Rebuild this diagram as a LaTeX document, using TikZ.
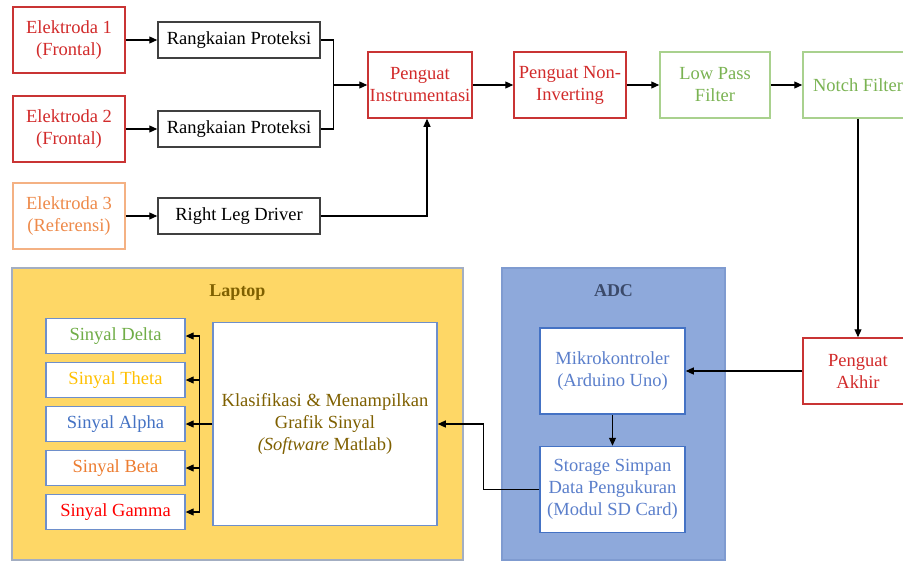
\documentclass[tikz,border=0pt]{standalone}
\usepackage{fontspec}
\setmainfont{Liberation Serif}
\usetikzlibrary{arrows.meta,positioning}
\definecolor{boxred}{HTML}{C93434}
\definecolor{txtred}{HTML}{D22B2B}
\definecolor{boxorange}{HTML}{F4B183}
\definecolor{txtorange}{HTML}{EE8A4A}
\definecolor{boxgreen}{HTML}{A9D18E}
\definecolor{txtgreen}{HTML}{7AB352}
\definecolor{laptopfill}{HTML}{FED766}
\definecolor{laptopedge}{HTML}{A3AEC2}
\definecolor{laptoptxt}{HTML}{7F6000}
\definecolor{adcfill}{HTML}{8EA9DB}
\definecolor{adcedge}{HTML}{7F9BD0}
\definecolor{adctxt}{HTML}{3B4A6A}
\definecolor{blueedge}{HTML}{4472C4}
\definecolor{bluetxt}{HTML}{5B7FCB}
\definecolor{sigedge}{HTML}{6E8FCB}
\definecolor{cdelta}{HTML}{70AD47}
\definecolor{ctheta}{HTML}{FFC000}
\definecolor{calpha}{HTML}{4472C4}
\definecolor{cbeta}{HTML}{ED7D31}
\definecolor{cgamma}{HTML}{FF0000}
\begin{document}
\begin{tikzpicture}[x=1pt,y=-1pt,on grid,>={Triangle[length=8pt,width=7pt]},
    every node/.style={font=\fontsize{18.5}{22}\selectfont,align=center,inner sep=1pt}]
  % Block styles
  \tikzstyle{nodeR}=[rectangle,line width=1.5pt,draw=boxred,text=txtred,fill=white,minimum width=112pt,minimum height=66pt]
  \tikzstyle{nodeO}=[nodeR,draw=boxorange,text=txtorange]
  \tikzstyle{nodeG}=[nodeR,draw=boxgreen,text=txtgreen,minimum width=110pt]
  \tikzstyle{nodeK}=[rectangle,line width=1.5pt,draw=black!75,fill=white,minimum width=162pt,minimum height=36pt]
  \tikzstyle{nodeB}=[rectangle,line width=1.5pt,draw=blueedge,text=bluetxt,fill=white,minimum width=145pt,minimum height=86pt]
  \tikzstyle{nodeS}=[rectangle,line width=1.3pt,draw=sigedge,fill=white,minimum width=139pt,minimum height=35pt]
  \tikzstyle{groupbox}=[rectangle,line width=1.2pt,minimum height=292pt]
  \tikzstyle{wire}=[->,line width=1.1pt]

  \useasboundingbox (0,0) rectangle (903,563);
  \clip (0,0) rectangle (903,563);

  % Group boxes
  \node[groupbox, draw=laptopedge, fill=laptopfill, minimum width=451pt] (laptop) at (237.5,414) {};
  \node[groupbox, draw=adcedge, fill=adcfill, minimum width=223pt]       (adc)    at (613.5,414) {};
  \node[font=\fontsize{18}{22}\selectfont\bfseries, text=laptoptxt] (laptop_t) [below=16pt of laptop.north] {Laptop};
  \node[font=\fontsize{18}{22}\selectfont\bfseries, text=adctxt]    (adc_t)    [below=16pt of adc.north] {ADC};

  % Input chain
  \node[nodeR] (el_1) at (69,40)            {Elektroda 1\\(Frontal)};
  \node[nodeR] (el_2) [below=89pt of el_1]  {Elektroda 2\\(Frontal)};
  \node[nodeO] (el_3) [below=87pt of el_2]  {Elektroda 3\\(Referensi)};
  \node[nodeK] (rp_1) [right=170pt of el_1] {Rangkaian Proteksi};
  \node[nodeK] (rp_2) [right=170pt of el_2] {Rangkaian Proteksi};
  \node[nodeK] (rld)  [right=170pt of el_3] {Right Leg Driver};

  \node[nodeR, minimum width=104pt] (pi)  [below right=45pt and 181pt of rp_1] {Penguat\\Instrumentasi};
  \node[nodeR]                      (pni) [right=150pt of pi]  {Penguat Non-\\Inverting};
  \node[nodeG]                      (lpf) [right=145pt of pni] {Low Pass\\Filter};
  \node[nodeG]                      (nf)  [right=143pt of lpf] {Notch Filter};
  \node[nodeR, minimum width=110pt] (pa)  [below=286pt of nf]  {Penguat\\Akhir};

  % ADC
  \node[nodeB] (mk) [left=245.5pt of pa]  {Mikrokontroler\\(Arduino Uno)};
  \node[nodeB] (st) [below=118.5pt of mk] {Storage Simpan\\Data Pengukuran\\(Modul SD Card)};

  % Laptop
  \node[nodeB, draw=sigedge, text=laptoptxt, minimum width=224pt, minimum height=203pt] (kl)
        [above left=65.5pt and 287.5pt of st] {Klasifikasi \& Menampilkan\\Grafik Sinyal\\\textit{(Software} Matlab)};
  \node[nodeS, text=calpha] (s_alpha) [left=209.5pt of kl]    {Sinyal Alpha};
  \node[nodeS, text=ctheta] (s_theta) [above=44pt of s_alpha] {Sinyal Theta};
  \node[nodeS, text=cdelta] (s_delta) [above=44pt of s_theta] {Sinyal Delta};
  \node[nodeS, text=cbeta]  (s_beta)  [below=44pt of s_alpha] {Sinyal Beta};
  \node[nodeS, text=cgamma] (s_gamma) [below=44pt of s_beta]  {Sinyal Gamma};

  \coordinate[left=34pt of pi.west]  (j);
  \coordinate[right=7pt of pi.south] (pi_in);
  \coordinate[left=13pt of kl.west]  (bus);
  \coordinate[right=46pt of kl.east] (bus2);

  \path[wire] (el_1) edge (rp_1);
  \path[wire] (el_2) edge (rp_2);
  \path[wire] (el_3) edge (rld);
  \draw[line width=1.1pt] (rp_1.east) -| (j) |- (rp_2.east);
  \path[wire] (j) edge (pi.west);
  \draw[wire] (rld.east) -| (pi_in);
  \path[wire] (pi) edge (pni);
  \path[wire] (pni) edge (lpf);
  \path[wire] (lpf) edge (nf);
  \path[wire] (nf) edge (pa);
  \path[wire] (pa) edge (mk);
  \path[wire] (mk) edge (st);
  \draw[wire] (st.west) -| (bus2) -- (kl.east);
  \draw[line width=1.1pt] (kl.west) -- (bus);
  \foreach \s in {s_delta,s_theta,s_alpha,s_beta,s_gamma}
    \draw[wire] (bus) |- (\s.east);
\end{tikzpicture}
\end{document}
